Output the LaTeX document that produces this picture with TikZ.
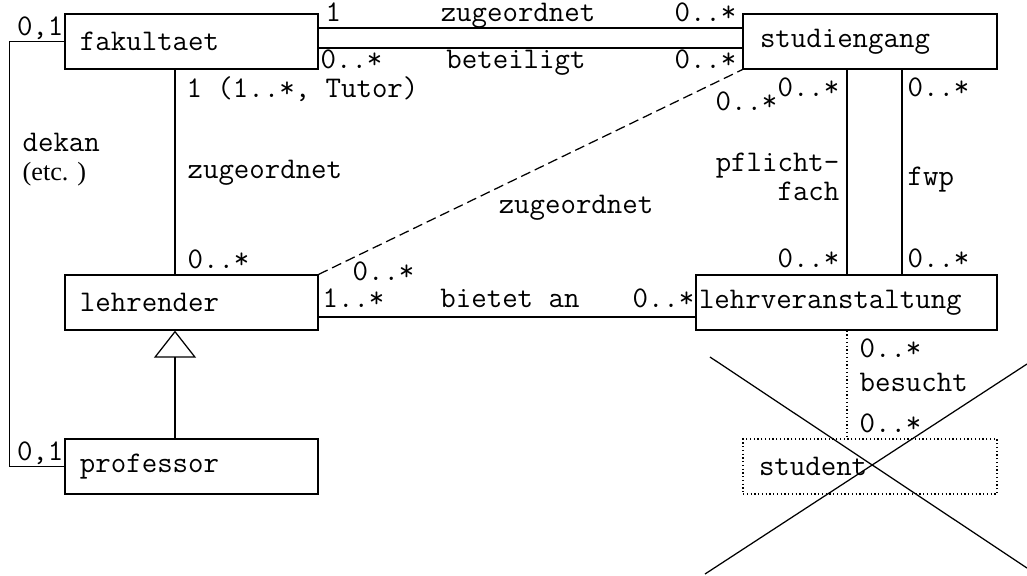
\documentclass[tikz,border=0pt]{standalone}
\usepackage{fontspec}
\newfontfamily\umlserif{Liberation Serif}
\usetikzlibrary{arrows.meta}
\begin{document}
\begin{tikzpicture}[x=0.4pt, y=-0.4pt, line width=0.5pt,
  every node/.style={font=\ttfamily\fontsize{12pt}{13pt}\selectfont, inner sep=0pt},
  klasse/.style={draw, minimum height=22pt, inner xsep=6pt, align=left},
  rolle/.style={anchor=base west},
  rolleL/.style={anchor=base east}]
  \useasboundingbox (0,0) rectangle (1027,575);

  \node[klasse, text width=89.2pt] (fak) at (191.5,41.5) {fakultaet};
  \node[klasse, text width=88pt, inner xsep=6.8pt] (stud) at (870,41.5) {studiengang};
  \node[klasse, text width=89.2pt] (lehr) at (191.5,302.5) {lehrender};
  \node[klasse, text width=89.2pt] (prof) at (191.5,466.5) {professor};
  \node[klasse, text width=118pt, inner xsep=1.2pt] (lv) at (846.5,302.5) {lehrveranstaltung};
  \node[klasse, densely dotted, text width=88.8pt, inner xsep=6.4pt] (stu) at (870,466.5) {student};

  \draw (fak.east |- 0,28) -- (stud.west |- 0,28);
  \node[rolle] (m1) at (325,21) {1};
  \node[anchor=base] (a1) at (518,21) {zugeordnet};
  \node[rolleL] (m2) at (737,21) {0..*};

  \draw (fak.east |- 0,48) -- (stud.west |- 0,48);
  \node[rolle] (m3) at (320,68) {0..*};
  \node[anchor=base] (a2) at (516,68) {beteiligt};
  \node[rolleL] (m4) at (737,68) {0..*};

  \draw (fak.south -| 175,0) -- (lehr.north -| 175,0);
  \node[rolle] (m5) at (186,97) {1 (1..*, Tutor)};
  \node[rolle] (a3) at (187,178) {zugeordnet};
  \node[rolle] (m6) at (187,268) {0..*};

  \draw (fak.west) -- ++(-55,0) |- (prof.west);
  \node[rolleL] (m7) at (64,35) {0,1};
  \node[rolle] (a4) at (22,151) {dekan};
  \node[rolle, font=\umlserif\fontsize{10.5pt}{11.6pt}\selectfont] (a4b) at (22,180) {(etc. )};
  \node[rolleL] (m8) at (64,460) {0,1};

  \draw[-{Triangle[open, length=10.8pt, width=16.8pt]}] (prof.north -| 175,0) -- (lehr.south -| 175,0);

  \draw (lehr.east |- 0,317) -- (lv.west |- 0,317);
  \node[rolle] (m10) at (322,307) {1..*};
  \node[anchor=base] (a5) at (510,307) {bietet an};
  \node[rolleL] (m11) at (695,307) {0..*};

  \draw[dash pattern=on 4pt off 2pt] (lehr.north east) -- (stud.south west);
  \node[rolle] (m9) at (352,280) {0..*};
  \node[anchor=base] (a6) at (576,213) {zugeordnet};
  \node[rolle] (m12) at (715,110) {0..*};

  \draw (stud.south -| 847,0) -- (lv.north -| 847,0);
  \node[rolleL] (m13) at (840,96) {0..*};
  \node[rolleL] (a7) at (840,171) {pflicht-};
  \node[rolleL] (a7b) at (840,200) {fach};
  \node[rolleL] (m15) at (840,267) {0..*};

  \draw (stud.south -| 902,0) -- (lv.north -| 902,0);
  \node[rolle] (m14) at (907,96) {0..*};
  \node[rolle] (a8) at (907,185) {fwp};
  \node[rolle] (m16) at (907,267) {0..*};

  \draw[densely dotted] (lv.south -| 847,0) -- (stu.north -| 847,0);
  \node[rolle] (m17) at (859,357) {0..*};
  \node[rolle] (a9) at (859,391) {besucht};
  \node[rolle] (m18) at (859,432) {0..*};

  \draw (710,357) -- (1027,568);
  \draw (705,574) -- (1027,364);
\end{tikzpicture}
\end{document}
